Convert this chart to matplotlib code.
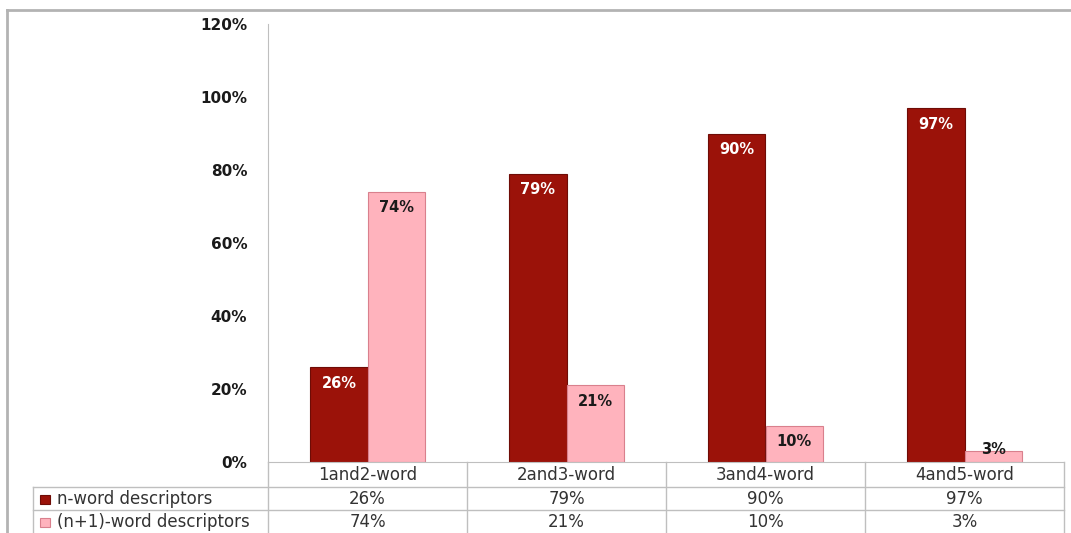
import matplotlib.pyplot as plt
from matplotlib.lines import Line2D
from matplotlib.patches import Rectangle
from matplotlib.transforms import blended_transform_factory

# data
categories = ["1and2-word", "2and3-word", "3and4-word", "4and5-word"]
n_word = [0.26, 0.79, 0.90, 0.97]
n1_word = [0.74, 0.21, 0.10, 0.03]
series_names = ["n-word descriptors", "(n+1)-word descriptors"]
yticks = [0, 0.2, 0.4, 0.6, 0.8, 1.0, 1.2]

DARK = "#9b1209"
DARK_EDGE = "#6e0c06"
PINK = "#ffb3bd"
PINK_EDGE = "#d9808d"
GRID = "#bfbfbf"

W, H = 1071, 533


def fx(x):
    return x / W


def fy(y):
    return 1 - y / H


fig = plt.figure(figsize=(W / 100, H / 100), dpi=100)
ax = fig.add_axes([fx(268), fy(462), fx(1064) - fx(268), fy(24) - fy(462)])

w = 0.287
x = range(len(categories))
ax.bar([i - w / 2 for i in x], n_word, w, color=DARK, edgecolor=DARK_EDGE, linewidth=0.8)
ax.bar([i + w / 2 for i in x], n1_word, w, color=PINK, edgecolor=PINK_EDGE, linewidth=0.8)

# data labels
for i in x:
    v = n_word[i]
    ax.text(i - w / 2, v - 0.044, f"{round(v * 100)}%", ha="center", va="center",
            color="white", fontsize=10.5, fontweight="bold")
    v = n1_word[i]
    yy = v - 0.044 if v > 0.08 else v + 0.003
    ax.text(i + w / 2, yy, f"{round(v * 100)}%", ha="center", va="center",
            color="#1a1a1a", fontsize=10.5, fontweight="bold")

ax.set_xlim(-0.5, len(categories) - 0.5)
ax.set_ylim(0, 1.2)
ax.set_yticks(yticks)
ax.set_yticklabels([f"{round(t * 100)}%" for t in yticks], fontsize=11, fontweight="bold",
                   color="#1a1a1a")
ax.tick_params(axis="y", length=0, pad=15)
ax.set_xticks([])
for s in ["top", "right"]:
    ax.spines[s].set_visible(False)
ax.spines["left"].set_color(GRID)
ax.spines["bottom"].set_color(GRID)

# data table below the axes
tr = blended_transform_factory(ax.transData, fig.transFigure)
line_kw = dict(color=GRID, linewidth=1)
for b in [i - 0.5 for i in range(len(categories) + 1)]:
    fig.add_artist(Line2D([b, b], [fy(462), fy(533)], transform=tr, **line_kw))
for yl in [487, 510]:
    fig.add_artist(Line2D([fx(33), fx(1064)], [fy(yl), fy(yl)], **line_kw))
fig.add_artist(Line2D([fx(33), fx(33)], [fy(487), fy(533)], **line_kw))

tkw = dict(ha="center", va="center", fontsize=12, color="#333333")
for i, c in enumerate(categories):
    fig.text(i, fy(475), c, transform=tr, **tkw)
    fig.text(i, fy(499), f"{round(n_word[i] * 100)}%", transform=tr, **tkw)
    fig.text(i, fy(522), f"{round(n1_word[i] * 100)}%", transform=tr, **tkw)

for yc, name, fc, ec in [(499, series_names[0], DARK, DARK_EDGE), (522, series_names[1], PINK, PINK_EDGE)]:
    fig.add_artist(Rectangle((fx(40), fy(yc) - 4.5 / H), 10 / W, 9 / H,
                             facecolor=fc, edgecolor=ec, linewidth=0.8, transform=fig.transFigure))
    fig.text(fx(57), fy(yc), name, ha="left", va="center", fontsize=12, color="#333333")

# outer chart frame
fig.add_artist(Line2D([fx(7), 1], [fy(10), fy(10)], color="#b3b3b3", linewidth=2))
fig.add_artist(Line2D([fx(7), fx(7)], [fy(10), 0], color="#b3b3b3", linewidth=2))

fig.savefig("out.png", dpi=100)
